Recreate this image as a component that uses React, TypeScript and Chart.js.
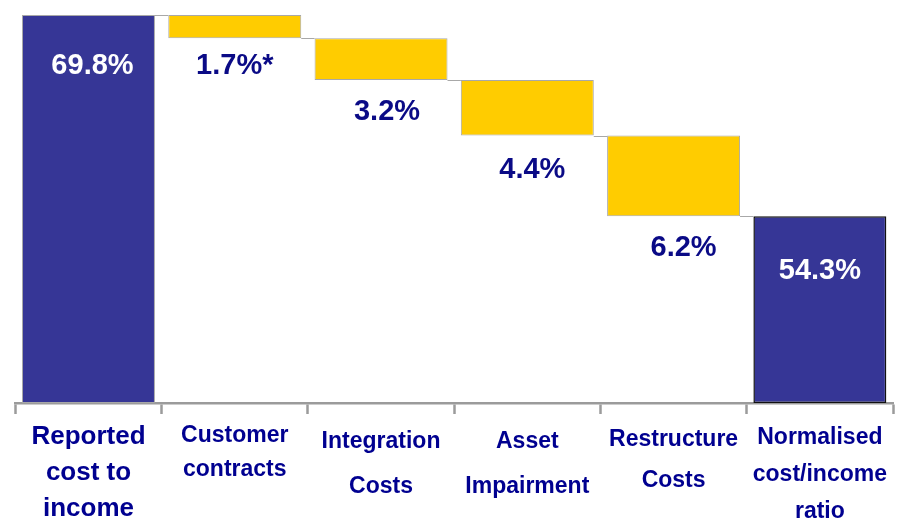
import React, { useEffect, useRef } from "react";
import { Chart, registerables } from "chart.js";

Chart.register(...registerables);

// ---- Data (bar heights as drawn in the slide) ----
const categories: string[][] = [
  ["Reported", "cost to", "income"],
  ["Customer", "contracts"],
  ["Integration", "Costs"],
  ["Asset", "Impairment"],
  ["Restructure", "Costs"],
  ["Normalised", "cost/income", "ratio"],
];
const valueLabels = ["69.8%", "1.7%*", "3.2%", "4.4%", "6.2%", "54.3%"];
const startLevel = 69.8; // reported total bar height
const stepLevels = [65.6, 58.1, 48.1, 33.6]; // running level after each step, as drawn
const barKinds = ["total", "step", "step", "step", "step", "total"];

// ---- Styles ----
const FONT = "'Liberation Sans', Arial, Helvetica, sans-serif";
const BLUE = "#363696";
const YELLOW = "#FFCC00";
const NAVY = "#0A0A86";
const AXIS_GREY = "#9B9B9B";
const BAR_EDGE = "#A8A8A8";
const tickSizes = [26, 23, 23, 23, 23, 23];
const tickLineHeights = [36, 34, 45, 45, 41, 37];
const labelNudges = [
  { dx: 4, dy: 51 },
  { dx: 0, dy: 28 },
  { dx: 6, dy: 32 },
  { dx: 5, dy: 34 },
  { dx: 10, dy: 32 },
  { dx: 0, dy: 55 },
];

function buildRanges(): [number, number][] {
  const levels = [startLevel, ...stepLevels];
  const out: [number, number][] = [];
  let stepIdx = 0;
  barKinds.forEach((k, i) => {
    if (k === "total") {
      out.push(i === 0 ? [0, startLevel] : [0, levels[levels.length - 1]]);
    } else {
      out.push([levels[stepIdx + 1], levels[stepIdx]]);
      stepIdx++;
    }
  });
  return out;
}

const waterfallPlugin = {
  id: "waterfallExtras",
  afterDatasetsDraw(chart: any) {
    const ctx = chart.ctx;
    const meta = chart.getDatasetMeta(0);
    const yScale = chart.scales.y;
    const ranges = chart.data.datasets[0].data as [number, number][];
    ctx.save();
    // connector lines
    ctx.strokeStyle = BAR_EDGE;
    ctx.lineWidth = 1;
    for (let i = 0; i < ranges.length - 1; i++) {
      const a = meta.data[i];
      const b = meta.data[i + 1];
      const level = barKinds[i] === "total" ? ranges[i][1] : ranges[i][0];
      const y = Math.round(yScale.getPixelForValue(level)) + 0.5;
      ctx.beginPath();
      ctx.moveTo(a.x + a.width / 2, y);
      ctx.lineTo(b.x - b.width / 2, y);
      ctx.stroke();
    }
    // value labels
    ctx.font = `bold 29px ${FONT}`;
    ctx.textAlign = "center";
    ctx.textBaseline = "middle";
    ranges.forEach((r, i) => {
      const el = meta.data[i];
      const n = labelNudges[i];
      if (barKinds[i] === "total") {
        ctx.fillStyle = "#FFFFFF";
        ctx.fillText(valueLabels[i], el.x + n.dx, yScale.getPixelForValue(r[1]) + n.dy);
      } else {
        ctx.fillStyle = NAVY;
        ctx.fillText(valueLabels[i], el.x + n.dx, yScale.getPixelForValue(r[0]) + n.dy);
      }
    });
    ctx.restore();
  },
};

export default function App() {
  const ref = useRef<HTMLCanvasElement | null>(null);
  useEffect(() => {
    if (!ref.current) return;
    const ranges = buildRanges();
    const chart = new Chart(ref.current, {
      type: "bar",
      data: {
        labels: categories,
        datasets: [
          {
            data: ranges as any,
            backgroundColor: barKinds.map((k) => (k === "total" ? BLUE : YELLOW)),
            borderColor: barKinds.map((k, i) => (i === barKinds.length - 1 ? "#111111" : BAR_EDGE)),
            borderWidth: barKinds.map((k, i) => (i === barKinds.length - 1 ? 1.5 : 1)),
            borderSkipped: false,
            categoryPercentage: 1,
            barPercentage: 0.909,
          },
        ],
      },
      options: {
        animation: false,
        responsive: true,
        maintainAspectRatio: false,
        layout: { padding: { top: 15, left: 15.35, right: 11, bottom: 0 } },
        plugins: { legend: { display: false }, tooltip: { enabled: false } },
        scales: {
          y: { display: false, min: 0, max: startLevel },
          x: {
            offset: true,
            afterFit: (scale: any) => {
              scale.height = 118;
            },
            border: { display: true, color: AXIS_GREY, width: 2.5 },
            grid: {
              offset: true,
              drawOnChartArea: false,
              drawTicks: true,
              tickLength: 11,
              tickWidth: 2.5,
              tickColor: AXIS_GREY,
            },
            ticks: {
              autoSkip: false,
              maxRotation: 0,
              minRotation: 0,
              padding: 5,
              color: "#000090",
              font: (c: any) => ({
                family: FONT,
                weight: "bold",
                size: tickSizes[c.index] ?? 23,
                lineHeight: `${tickLineHeights[c.index] ?? 34}px`,
              }),
            },
          },
        },
      },
      plugins: [waterfallPlugin],
    });
    return () => chart.destroy();
  }, []);

  return (
    <div style={{ position: "absolute", left: 0, top: 0, width: 904, height: 521, background: "#fff" }}>
      <canvas ref={ref} />
    </div>
  );
}
